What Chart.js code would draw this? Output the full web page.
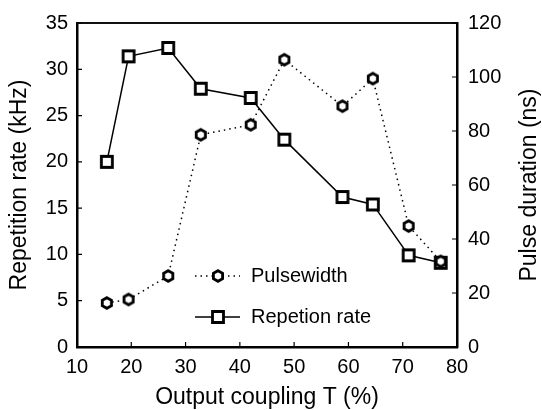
<!DOCTYPE html>
<html lang="en">
<head>
    <meta charset="UTF-8">
    <title>Repetition rate and pulse duration</title>
    <script src="https://cdn.jsdelivr.net/npm/chart.js"></script>
    <style>
        body { margin: 0; background: #fff; }
        .chart-box { width: 542px; height: 410px; }
    </style>
</head>
<body>
    <div class="chart-box"><canvas id="chart"></canvas></div>
    <script>
        // Data
        const coupling = [15.5, 19.5, 26.8, 32.8, 42.0, 48.2, 58.9, 64.5, 71.1, 77.0];
        const repRate = [20.0, 31.4, 32.3, 27.9, 26.9, 22.4, 16.2, 15.4, 9.9, 9.1];
        const pulseWidth = [16.3, 17.6, 26.3, 78.6, 82.3, 106.4, 89.2, 99.4, 44.8, 31.7];
        const seriesLabels = ['Pulsewidth', 'Repetion rate'];
        const xTicks = [10, 20, 30, 40, 50, 60, 70, 80];
        const leftTicks = [0, 5, 10, 15, 20, 25, 30, 35];
        const rightTicks = [0, 20, 40, 60, 80, 100, 120];

        const FONT = '"Liberation Sans", Arial, sans-serif';

        // marker images
        function makeMarker(kind) {
            const c = document.createElement('canvas');
            c.width = c.height = 16;
            const g = c.getContext('2d');
            g.lineWidth = 2.8;
            g.strokeStyle = '#000';
            g.fillStyle = '#fff';
            g.beginPath();
            if (kind === 'hex') {
                for (let i = 0; i < 6; i++) {
                    const a = (-90 + 60 * i) * Math.PI / 180;
                    const px = 8 + 5.3 * Math.cos(a), py = 8 + 5.3 * Math.sin(a);
                    i ? g.lineTo(px, py) : g.moveTo(px, py);
                }
                g.closePath();
            } else {
                g.rect(2.5, 2.5, 11, 11);
            }
            g.fill();
            g.stroke();
            return c;
        }
        const hexMarker = makeMarker('hex');
        const sqMarker = makeMarker('sq');

        const toPoints = (ys) => coupling.map((x, i) => ({ x: x, y: ys[i] }));

        const extras = {
            id: 'extras',
            afterDraw(chart) {
                const ctx = chart.ctx;
                const a = chart.chartArea;
                const sx = chart.scales.x, sl = chart.scales.y, sr = chart.scales.y2;
                ctx.save();
                // top border
                ctx.strokeStyle = '#111';
                ctx.lineWidth = 2;
                ctx.beginPath();
                ctx.moveTo(a.left, a.top);
                ctx.lineTo(a.right, a.top);
                ctx.stroke();
                // inward ticks
                ctx.strokeStyle = '#000';
                ctx.lineWidth = 1.2;
                ctx.beginPath();
                xTicks.forEach(v => {
                    const px = sx.getPixelForValue(v);
                    ctx.moveTo(px, a.bottom);
                    ctx.lineTo(px, a.bottom - 5);
                });
                leftTicks.forEach(v => {
                    const py = sl.getPixelForValue(v);
                    ctx.moveTo(a.left, py);
                    ctx.lineTo(a.left + 5, py);
                });
                rightTicks.forEach(v => {
                    const py = sr.getPixelForValue(v);
                    ctx.moveTo(a.right, py);
                    ctx.lineTo(a.right - 5, py);
                });
                ctx.stroke();

                // axis titles
                ctx.fillStyle = '#000';
                ctx.font = '23px ' + FONT;
                ctx.textAlign = 'center';
                ctx.textBaseline = 'middle';
                ctx.fillText('Output coupling T (%)', (a.left + a.right) / 2, 398);
                ctx.save();
                ctx.translate(20, (a.top + a.bottom) / 2);
                ctx.rotate(-Math.PI / 2);
                ctx.fillText('Repetition rate (kHz)', 0, 0);
                ctx.restore();
                ctx.save();
                ctx.translate(530, (a.top + a.bottom) / 2);
                ctx.rotate(-Math.PI / 2);
                ctx.fillText('Pulse duration (ns)', 0, 0);
                ctx.restore();

                // legend inside plot
                ctx.font = '20px ' + FONT;
                ctx.textAlign = 'left';
                chart.data.datasets.forEach((ds, i) => {
                    const y = 276 + i * 41;
                    ctx.strokeStyle = '#000';
                    ctx.lineWidth = ds.borderWidth;
                    ctx.setLineDash(ds.borderDash || []);
                    ctx.beginPath();
                    ctx.moveTo(195, y);
                    ctx.lineTo(240, y);
                    ctx.stroke();
                    ctx.setLineDash([]);
                    const m = ds.pointStyle;
                    ctx.drawImage(m, 218 - m.width / 2, y - m.height / 2);
                    ctx.fillText(ds.label, 251, y);
                });
                ctx.restore();
            }
        };

        new Chart(document.getElementById('chart'), {
            type: 'scatter',
            data: {
                datasets: [{
                    label: seriesLabels[0],
                    data: toPoints(pulseWidth),
                    yAxisID: 'y2',
                    showLine: true,
                    borderColor: '#000',
                    borderWidth: 1.5,
                    borderDash: [1.5, 4],
                    pointStyle: hexMarker,
                    pointRadius: 6
                }, {
                    label: seriesLabels[1],
                    data: toPoints(repRate),
                    yAxisID: 'y',
                    showLine: true,
                    borderColor: '#000',
                    borderWidth: 1.5,
                    pointStyle: sqMarker,
                    pointRadius: 6
                }]
            },
            options: {
                responsive: true,
                maintainAspectRatio: false,
                animation: false,
                layout: { padding: { top: 22, left: 0, right: 0, bottom: 0 } },
                plugins: {
                    legend: { display: false },
                    tooltip: { enabled: false }
                },
                scales: {
                    x: {
                        type: 'linear', min: 10, max: 80,
                        afterBuildTicks: s => { s.ticks = xTicks.map(v => ({ value: v })); },
                        afterFit: s => { s.height = 63; },
                        grid: { display: false, drawTicks: false },
                        border: { color: '#000', width: 2.5 },
                        ticks: { color: '#000', padding: 8, font: { family: FONT, size: 20 } }
                    },
                    y: {
                        position: 'left', min: 0, max: 35,
                        afterBuildTicks: s => { s.ticks = leftTicks.map(v => ({ value: v })); },
                        afterFit: s => { s.width = 77; },
                        grid: { display: false, drawTicks: false },
                        border: { color: '#000', width: 2.5 },
                        ticks: { color: '#000', padding: 9, font: { family: FONT, size: 20 } }
                    },
                    y2: {
                        position: 'right', min: 0, max: 120,
                        afterBuildTicks: s => { s.ticks = rightTicks.map(v => ({ value: v })); },
                        afterFit: s => { s.width = 85; },
                        grid: { display: false, drawTicks: false },
                        border: { color: '#000', width: 2.5 },
                        ticks: { color: '#000', padding: 11, font: { family: FONT, size: 20 } }
                    }
                }
            },
            plugins: [extras]
        });
    </script>
</body>
</html>
